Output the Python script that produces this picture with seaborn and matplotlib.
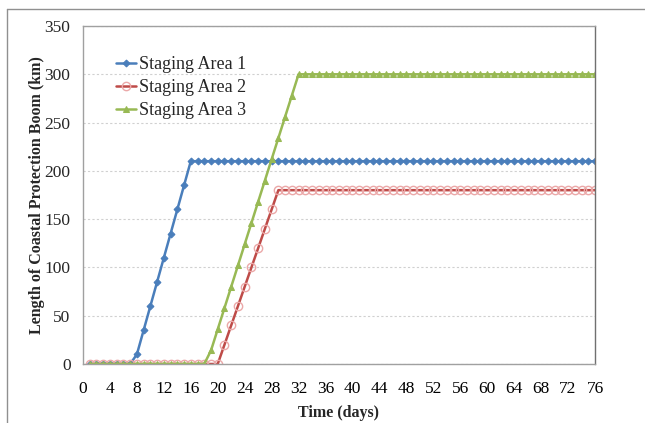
import matplotlib
matplotlib.use("Agg")
import matplotlib.pyplot as plt
import seaborn as sns
import pandas as pd
from matplotlib.lines import Line2D

days = list(range(1, 77))
area1 = [0]*7 + [10, 35, 60, 85, 110, 135, 160, 185] + [210]*61
area2 = [0]*20 + [20, 40, 60, 80, 100, 120, 140, 160] + [180]*48
area3 = [0]*18 + [14, 36, 58, 80, 102, 124, 146, 168, 190, 212, 234, 256, 278] + [300]*45
labels = ["Staging Area 1", "Staging Area 2", "Staging Area 3"]
xticks = list(range(0, 77, 4))
yticks = list(range(0, 351, 50))

sns.set_theme(style="white")
plt.rcParams['font.family'] = ['Liberation Serif', 'DejaVu Serif']

fig = plt.figure(figsize=(6.45, 4.23), dpi=100)
ax = fig.add_axes([83/645, 1-364/423, (595-83)/645, (364-26)/423])

styles = [
    dict(color="#4A7EBB", marker="D", markersize=3.5, markerfacecolor="#4A7EBB", markeredgecolor="#4A7EBB"),
    dict(color="#BE4B48", marker="o", markersize=6, markerfacecolor="none", markeredgecolor="#EBA8A8", markeredgewidth=1.0),
    dict(color="#98B954", marker="^", markersize=4.5, markerfacecolor="#98B954", markeredgecolor="#98B954"),
]
for vals, lab, st in zip([area1, area2, area3], labels, styles):
    df = pd.DataFrame({"day": days, "val": vals})
    sns.lineplot(data=df, x="day", y="val", ax=ax, linewidth=1.8, label=lab, **st)

ax.set_xlim(0, 76)
ax.set_ylim(0, 350)
ax.set_xticks(xticks)
ax.set_yticks(yticks)
ax.tick_params(axis="x", direction="in", length=4, labelsize=12.5, pad=12, colors="black")
ax.tick_params(axis="x", color="#999999")
ax.tick_params(axis="y", length=0, labelsize=12.5, pad=9)
ax.yaxis.grid(True, linestyle=(0, (2, 2)), color="#D0D0D0", linewidth=0.8)
ax.xaxis.grid(False)
for s in ax.spines.values():
    s.set_color("#A0A0A0")
    s.set_linewidth(1.0)
ax.spines["right"].set_color("#707070")
ax.set_xlabel("Time (days)", fontweight="bold", fontsize=11.5, labelpad=6)
ax.set_ylabel("Length of Coastal Protection Boom (km)", fontweight="bold", fontsize=11.5, labelpad=0)

leg = ax.legend(loc="upper left", bbox_to_anchor=(0.051, 0.932), frameon=False, fontsize=13,
                handlelength=1.1, handletextpad=0.15, labelspacing=0.33, borderaxespad=0)

fig.add_artist(Line2D([7/645, 7/645], [0, 1-9/423], transform=fig.transFigure, color="#909090", linewidth=1))
fig.add_artist(Line2D([7/645, 1], [1-9/423, 1-9/423], transform=fig.transFigure, color="#909090", linewidth=1))

fig.savefig("out.png", dpi=100)
